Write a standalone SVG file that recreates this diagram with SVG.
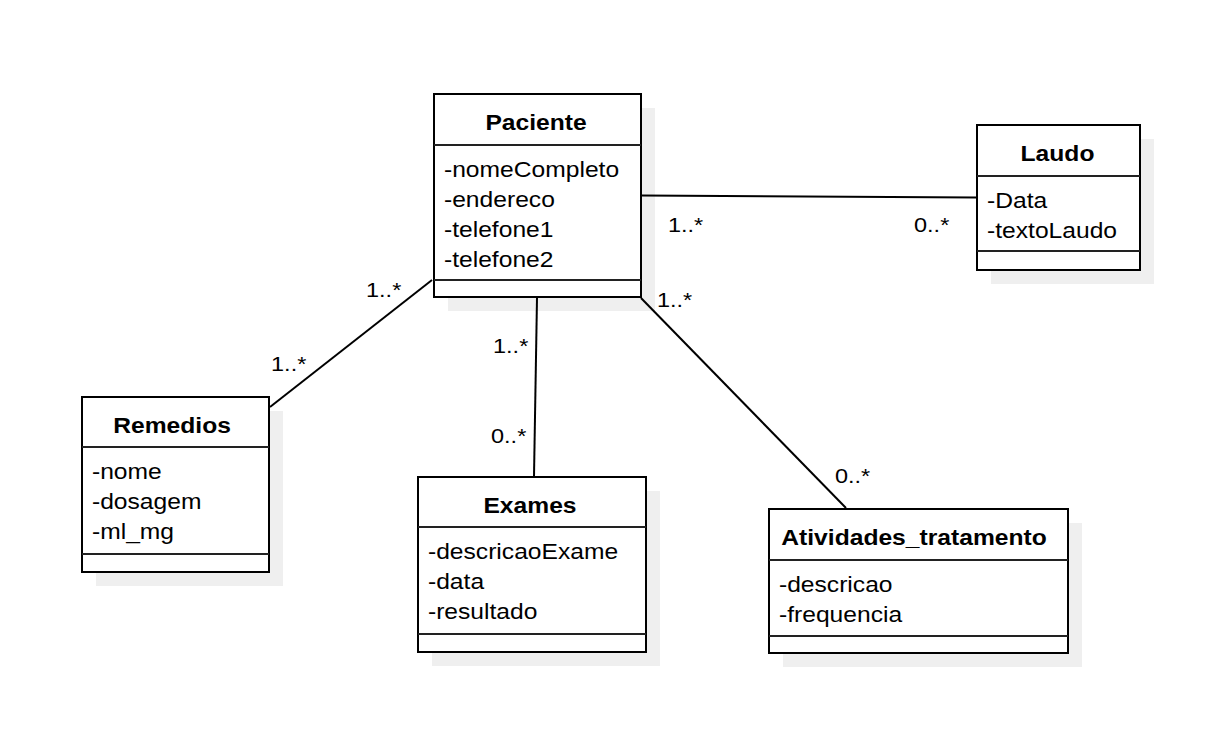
<svg xmlns="http://www.w3.org/2000/svg" width="1224" height="748" viewBox="0 0 1224 748">
  <style>
    .shadow { fill: #efefef; stroke: none; }
    .box { fill: #ffffff; stroke: #000000; stroke-width: 2; }
    .div { stroke: #222222; stroke-width: 2; }
    .title { font-family: "Liberation Sans", Arial, sans-serif; font-size: 22px; font-weight: bold; text-anchor: middle; fill: #000; }
    .attr { font-family: "Liberation Sans", Arial, sans-serif; font-size: 22px; fill: #000; }
    .mult { font-family: "Liberation Sans", Arial, sans-serif; font-size: 21px; fill: #000; }
    .conn { stroke: #000; stroke-width: 2; fill: none; }
  </style>
  <rect width="1224" height="748" fill="#ffffff"/>

  <g id="paciente">
    <rect class="shadow" x="448" y="108" width="207" height="203"/>
    <rect class="box" x="434" y="94" width="207" height="203"/>
    <line class="div" x1="434" y1="145" x2="641" y2="145"/>
    <line class="div" x1="434" y1="280" x2="641" y2="280"/>
    <g transform="scale(1.12,1)">
      <text class="title" x="478.6" y="130">Paciente</text>
      <text class="attr" x="396.4" y="177">-nomeCompleto</text>
      <text class="attr" x="396.4" y="207">-endereco</text>
      <text class="attr" x="396.4" y="237">-telefone1</text>
      <text class="attr" x="396.4" y="267">-telefone2</text>
    </g>
  </g>

  <g id="laudo">
    <rect class="shadow" x="991" y="139" width="163" height="145"/>
    <rect class="box" x="977" y="125" width="163" height="145"/>
    <line class="div" x1="977" y1="176" x2="1140" y2="176"/>
    <line class="div" x1="977" y1="251" x2="1140" y2="251"/>
    <g transform="scale(1.12,1)">
      <text class="title" x="944.2" y="161">Laudo</text>
      <text class="attr" x="881.25" y="208">-Data</text>
      <text class="attr" x="881.25" y="238">-textoLaudo</text>
    </g>
  </g>

  <g id="remedios">
    <rect class="shadow" x="96" y="411" width="187" height="175"/>
    <rect class="box" x="82" y="397" width="187" height="175"/>
    <line class="div" x1="82" y1="447" x2="269" y2="447"/>
    <line class="div" x1="82" y1="554" x2="269" y2="554"/>
    <g transform="scale(1.12,1)">
      <text class="title" x="153.6" y="433">Remedios</text>
      <text class="attr" x="82.1" y="479">-nome</text>
      <text class="attr" x="82.1" y="509">-dosagem</text>
      <text class="attr" x="82.1" y="539">-ml_mg</text>
    </g>
  </g>

  <g id="exames">
    <rect class="shadow" x="432" y="491" width="228" height="175"/>
    <rect class="box" x="418" y="477" width="228" height="175"/>
    <line class="div" x1="418" y1="527" x2="646" y2="527"/>
    <line class="div" x1="418" y1="634" x2="646" y2="634"/>
    <g transform="scale(1.12,1)">
      <text class="title" x="473.2" y="513">Exames</text>
      <text class="attr" x="382.1" y="559">-descricaoExame</text>
      <text class="attr" x="382.1" y="589">-data</text>
      <text class="attr" x="382.1" y="619">-resultado</text>
    </g>
  </g>

  <g id="atividades_tratamento">
    <rect class="shadow" x="783" y="523" width="299" height="144"/>
    <rect class="box" x="769" y="509" width="299" height="144"/>
    <line class="div" x1="769" y1="560" x2="1068" y2="560"/>
    <line class="div" x1="769" y1="636" x2="1068" y2="636"/>
    <g transform="scale(1.12,1)">
      <text class="title" x="816.1" y="545">Atividades_tratamento</text>
      <text class="attr" x="695.5" y="592">-descricao</text>
      <text class="attr" x="695.5" y="622">-frequencia</text>
    </g>
  </g>

  <g id="connectors">
    <line class="conn" x1="642" y1="195.5" x2="976" y2="197.5"/>
    <line class="conn" x1="432" y1="280" x2="270" y2="407"/>
    <line class="conn" x1="537" y1="298" x2="534" y2="476"/>
    <line class="conn" x1="641" y1="298" x2="846" y2="508"/>
    <g transform="scale(1.12,1)">
      <text class="mult" x="596.4" y="232">1..*</text>
      <text class="mult" x="816.1" y="232">0..*</text>
      <text class="mult" x="326.8" y="297">1..*</text>
      <text class="mult" x="242" y="371">1..*</text>
      <text class="mult" x="440.2" y="353">1..*</text>
      <text class="mult" x="438.4" y="443">0..*</text>
      <text class="mult" x="586.6" y="307">1..*</text>
      <text class="mult" x="745.5" y="483">0..*</text>
    </g>
  </g>
</svg>
